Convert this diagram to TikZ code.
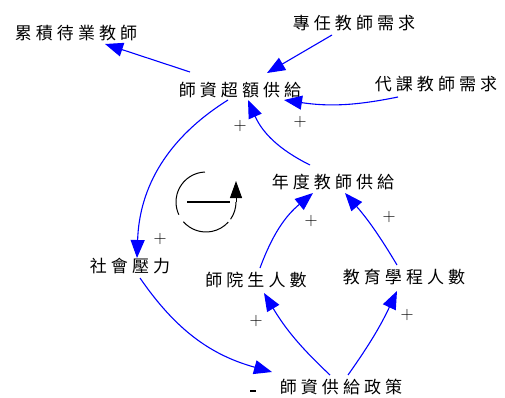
\documentclass[tikz,border=0pt]{standalone}
\usepackage{fontspec}
\newfontfamily\cjk{Noto Sans CJK TC}[LetterSpace=24]
\usetikzlibrary{arrows.meta,calc}
\definecolor{lnk}{RGB}{0,0,255}
\tikzset{
  var/.style={font=\cjk\fontsize{17}{20}\selectfont, inner sep=1pt},
  lnkarrow/.style={draw=lnk, line width=1.1pt, -{Triangle[length=18pt,width=14pt]}},
  pol/.style={font=\fontsize{18}{18}\selectfont, inner sep=0pt}
}
\begin{document}
\begin{tikzpicture}[x=1pt,y=1pt]
\useasboundingbox (0,0) rectangle (505,-398);
\node[var] (lj) at (76,-33) {累積待業教師};
\node[var] (zr) at (354,-23) {專任教師需求};
\node[var] (hs) at (240,-90) {師資超額供給};
\node[var] (dk) at (436,-84) {代課教師需求};
\node[var] (nd) at (333,-182) {年度教師供給};
\node[var] (sh) at (130,-266) {社會壓力};
\node[var] (sy) at (256,-280) {師院生人數};
\node[var] (jy) at (404,-277) {教育學程人數};
\node[var] (zc) at (341,-387) {師資供給政策};

\draw[lnkarrow] ($(hs)+(-50,18)$) -- ($(lj)+(29,-11)$);
\draw[lnkarrow] ($(zr)+(-22,-12)$) -- ($(hs)+(27,17)$);
\draw[lnkarrow] ($(dk)+(-38,-13)$) to[bend left=10] ($(hs)+(44,-10)$);
\draw[lnkarrow] ($(nd)+(-23,17)$) to[bend left=20] ($(hs)+(8,-10)$);
\draw[lnkarrow] ($(hs)+(-12,-10)$) to[bend right=28] ($(sh)+(7,8)$);
\draw[lnkarrow] ($(sh)+(10,-12)$) to[bend right=20] ($(zc)+(-69,15)$);
\draw[lnkarrow] ($(zc)+(-11,12)$) to[bend left=8] ($(sy)+(8,-13)$);
\draw[lnkarrow] ($(zc)+(7,12)$) to[bend right=5] ($(jy)+(-7,-14)$);
\draw[lnkarrow] ($(sy)+(4,12)$) to[bend left=15] ($(nd)+(-20,-11)$);
\draw[lnkarrow] ($(jy)+(-7,12)$) to[bend right=5] ($(nd)+(12,-11)$);

\node[pol] (p1) at (300,-122) {+};
\node[pol] (p2) at (240,-126) {+};
\node[pol] (p3) at (160,-239) {+};
\node[pol] (p4) at (311,-221) {+};
\node[pol] (p5) at (389,-217) {+};
\node[pol] (p6) at (256,-321) {+};
\node[pol] (p7) at (407,-315) {+};
\node[fill=black, minimum width=6pt, minimum height=2.2pt, inner sep=0pt] (m1) at (253,-391) {};

\begin{scope}[shift={(206,-202)}]
  \draw[line width=1pt] (92:30) arc[start angle=92, end angle=205, radius=30];
  \draw[line width=1pt] (221:30) arc[start angle=221, end angle=318, radius=30];
  \draw[line width=1pt] (325:30) arc[start angle=325, end angle=360, radius=30];
  \draw[line width=1pt, -{Triangle[length=17pt,width=12pt]}] (30,0) -- (30,21);
  \draw[line width=2.6pt] (-19,0) -- (24,0);
\end{scope}
\end{tikzpicture}
\end{document}
